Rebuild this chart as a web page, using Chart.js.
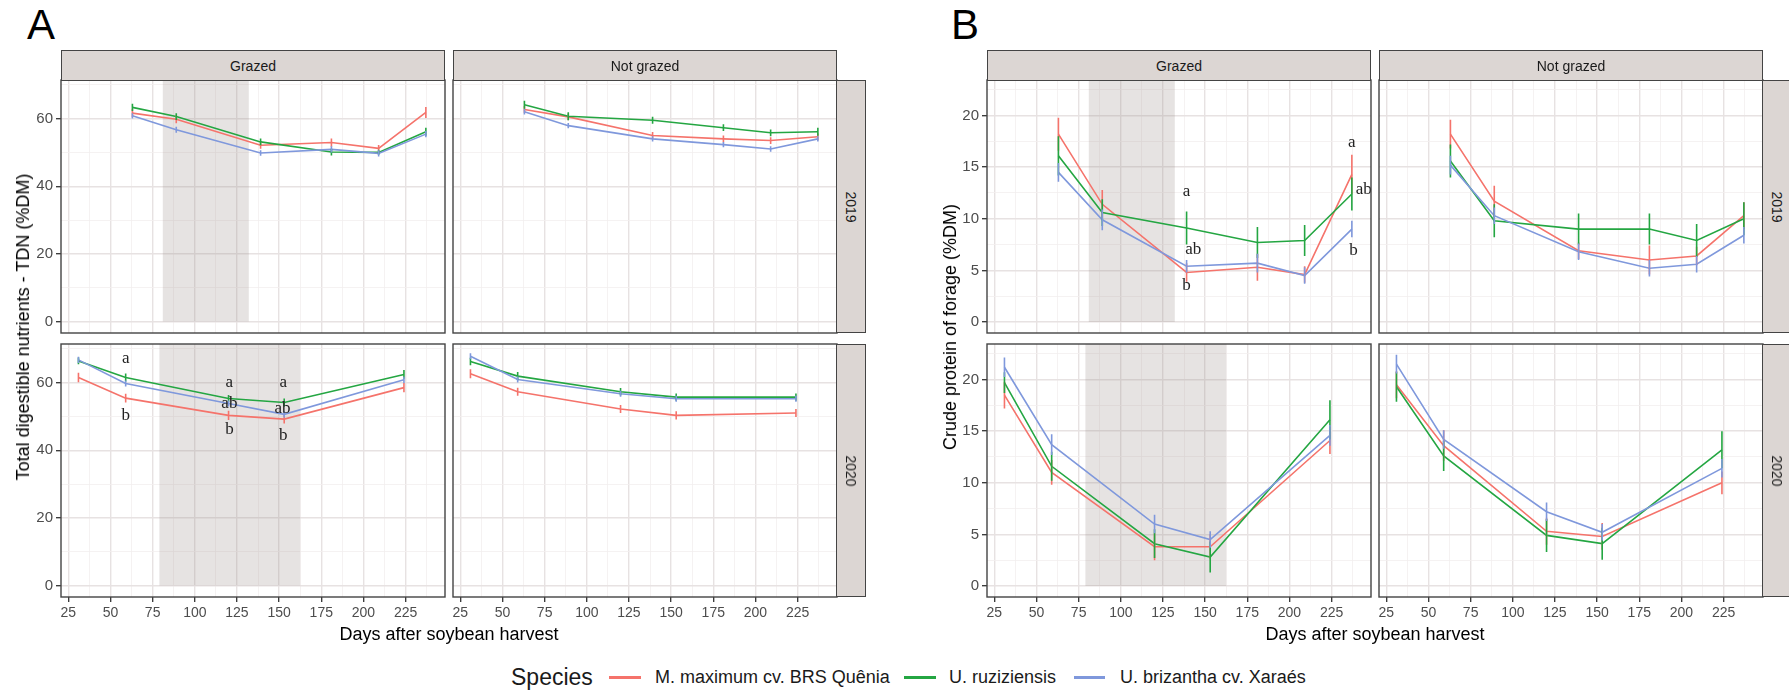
<!DOCTYPE html>
<html>
<head>
<meta charset="utf-8">
<script src="https://cdn.jsdelivr.net/npm/chart.js@4.4.0/dist/chart.umd.min.js"></script>
<style>
  body { margin: 0; width: 1789px; height: 692px; position: relative; overflow: hidden; background: #fff;
         font-family: "Liberation Sans", Arial, sans-serif; }
  canvas { position: absolute; }
  .lbl { position: absolute; white-space: nowrap; line-height: 1; transform: translate(-50%, -50%); color: #000; }
  .strip { position: absolute; background: #dcd6d3; border: 1.4px solid #444; box-sizing: border-box; }
  .key { position: absolute; height: 3px; }
</style>
</head>
<body>
<script>
// sampling days
const days2019 = [63, 89, 139, 181, 209, 237];
const days2020 = [31, 59, 120, 153, 224];
const species = ['M. maximum cv. BRS Quênia', 'U. ruziziensis', 'U. brizantha cv. Xaraés'];
const colors = ['#F5736B', '#24A642', '#7F98DC'];

// grazing period (shaded)
const grazing2019 = [81, 132];
const grazing2020 = [79, 162.5];

// tick labels
const xTicks = [25, 50, 75, 100, 125, 150, 175, 200, 225];
const tdnTicks = [0, 20, 40, 60];
const cpTicks = [0, 5, 10, 15, 20];

// A: TDN (%DM)
const tdnGrazed2019 = [
  [61.6, 59.8, 52.1, 52.9, 51.2, 61.8],
  [63.3, 60.6, 53.1, 50.1, 50.0, 56.1],
  [60.8, 56.7, 49.8, 50.9, 49.7, 55.4]
];
const tdnGrazed2019Err = [
  [1.2, 1.2, 1.0, 1.2, 1.0, 1.6],
  [1.1, 1.0, 1.0, 1.0, 0.8, 1.2],
  [0.8, 0.9, 0.8, 0.9, 0.9, 0.9]
];
const tdnNotGrazed2019 = [
  [62.7, 60.5, 55.0, 54.0, 53.5, 54.6],
  [64.1, 60.7, 59.5, 57.3, 55.8, 56.1],
  [62.0, 57.9, 54.0, 52.3, 51.0, 54.0]
];
const tdnNotGrazed2019Err = [
  [1.0, 1.0, 1.0, 1.0, 1.0, 1.0],
  [1.2, 1.2, 1.0, 1.0, 1.0, 1.2],
  [0.8, 0.8, 0.8, 0.8, 0.8, 0.8]
];
const tdnGrazed2020 = [
  [61.5, 55.4, 50.3, 49.2, 58.5],
  [66.4, 61.5, 55.3, 54.1, 62.4],
  [66.7, 59.7, 53.8, 50.6, 60.8]
];
const tdnGrazed2020Err = [
  [1.4, 1.3, 1.4, 1.3, 1.4],
  [1.0, 1.2, 1.0, 1.2, 1.3],
  [0.9, 0.9, 0.9, 0.9, 0.9]
];
const tdnNotGrazed2020 = [
  [62.6, 57.3, 52.2, 50.3, 51.0],
  [66.2, 61.9, 57.3, 55.7, 55.7],
  [67.8, 60.9, 56.7, 55.2, 55.2]
];
const tdnNotGrazed2020Err = [
  [1.3, 1.2, 1.2, 1.2, 1.2],
  [1.1, 1.2, 1.1, 1.1, 1.1],
  [0.9, 0.9, 0.9, 0.9, 0.9]
];

// B: crude protein (%DM)
const cpGrazed2019 = [
  [18.2, 11.4, 4.8, 5.3, 4.6, 14.3],
  [16.1, 10.6, 9.1, 7.7, 7.9, 12.4],
  [14.5, 9.9, 5.4, 5.7, 4.5, 9.0]
];
const cpGrazed2019Err = [
  [1.6, 1.4, 0.9, 1.3, 0.8, 1.9],
  [1.9, 1.3, 1.6, 1.5, 1.5, 1.6],
  [0.9, 1.0, 0.6, 0.9, 0.8, 0.8]
];
const cpNotGrazed2019 = [
  [18.2, 11.7, 6.9, 6.0, 6.4, 10.3],
  [15.6, 9.8, 9.0, 9.0, 7.9, 10.0],
  [15.2, 10.3, 6.8, 5.2, 5.6, 8.4]
];
const cpNotGrazed2019Err = [
  [1.4, 1.5, 0.8, 1.4, 0.9, 1.3],
  [1.6, 1.6, 1.5, 1.5, 1.6, 1.6],
  [0.9, 0.8, 0.8, 0.8, 0.8, 0.8]
];
const cpGrazed2020 = [
  [18.5, 11.0, 3.8, 3.8, 14.1],
  [19.7, 11.6, 4.1, 2.8, 16.1],
  [21.2, 13.7, 6.0, 4.5, 14.6]
];
const cpGrazed2020Err = [
  [1.3, 1.2, 1.3, 1.2, 1.3],
  [1.0, 1.4, 1.4, 1.5, 1.9],
  [0.95, 1.0, 0.9, 0.8, 1.0]
];
const cpNotGrazed2020 = [
  [19.5, 13.6, 5.3, 4.8, 10.0],
  [19.3, 12.6, 4.9, 4.1, 13.2],
  [21.5, 14.2, 7.2, 5.2, 11.4]
];
const cpNotGrazed2020Err = [
  [1.3, 1.5, 1.3, 1.3, 1.1],
  [1.45, 1.45, 1.6, 1.55, 1.8],
  [0.9, 0.9, 0.9, 0.8, 0.9]
];

// significance letters (day, value, text)
const tdnGrazed2020Letters = [
  [59, 67, 'a'], [59, 50.3, 'b'],
  [120.5, 60, 'a'], [120.5, 53.9, 'ab'], [120.5, 46.2, 'b'],
  [152.5, 60, 'a'], [152, 52.4, 'ab'], [152.5, 44.4, 'b']
];
const cpGrazed2019Letters = [
  [139, 12.6, 'a'], [143, 7.0, 'ab'], [139, 3.5, 'b'],
  [237, 17.4, 'a'], [244, 12.8, 'ab'], [238, 6.9, 'b']
];

const FONT = '"Liberation Sans", Arial, sans-serif';
const xMinorTicks = [];
for (let v = 25; v <= 237.5; v += 12.5) xMinorTicks.push(v);

function facetPlugin(f) {
  return {
    id: 'facet',
    beforeDatasetsDraw(chart) {
      if (!f.shade) return;
      const { ctx, chartArea: a, scales: { x, y } } = chart;
      const x1 = x.getPixelForValue(f.shade[0]), x2 = x.getPixelForValue(f.shade[1]);
      ctx.save();
      ctx.fillStyle = 'rgba(150,138,132,0.24)';
      ctx.fillRect(x1, a.top, x2 - x1, y.getPixelForValue(0) - a.top);
      ctx.restore();
    },
    afterDatasetsDraw(chart) {
      const { ctx, chartArea: a, scales: { x, y } } = chart;
      ctx.save();
      ctx.lineWidth = 1.6;
      f.values.forEach((vals, s) => {
        ctx.strokeStyle = colors[s];
        ctx.beginPath();
        vals.forEach((v, i) => {
          const px = x.getPixelForValue(f.days[i]);
          ctx.moveTo(px, y.getPixelForValue(v - f.errs[s][i]));
          ctx.lineTo(px, y.getPixelForValue(v + f.errs[s][i]));
        });
        ctx.stroke();
      });
      if (f.letters) {
        ctx.fillStyle = '#222';
        ctx.font = '17px "Liberation Serif", "Times New Roman", serif';
        ctx.textAlign = 'center';
        ctx.textBaseline = 'middle';
        f.letters.forEach(([d, v, t]) => ctx.fillText(t, x.getPixelForValue(d), y.getPixelForValue(v)));
      }
      ctx.strokeStyle = '#444';
      ctx.lineWidth = 1.4;
      ctx.strokeRect(a.left, a.top, a.right - a.left, a.bottom - a.top);
      ctx.restore();
    }
  };
}

function facet(L, T, R, B, f) {
  const M = 14, yW = f.showY ? 50 : 0, xH = f.showX ? 28 : 0;
  const w = R - L + 2 * M + yW, h = B - T + 2 * M + xH;
  const cv = document.createElement('canvas');
  cv.width = w; cv.height = h;
  cv.style.left = (L - M - yW) + 'px';
  cv.style.top = (T - M) + 'px';
  cv.style.width = w + 'px';
  cv.style.height = h + 'px';
  document.body.appendChild(cv);

  const yAll = [];
  for (let v = 0; v <= f.yMax; v += f.yStep / 2) yAll.push(v);
  const gridColor = (set) => (c) => (c.tick && set.includes(c.tick.value) ? '#e7e2e2' : '#f2efef');
  const gridWidth = (set) => (c) => (c.tick && set.includes(c.tick.value) ? 1.4 : 0.8);
  const tickColor = (set) => (c) => (c.tick && set.includes(c.tick.value) ? '#333' : 'rgba(0,0,0,0)');

  new Chart(cv, {
    type: 'line',
    data: {
      datasets: f.values.map((vals, s) => ({
        label: species[s],
        data: vals.map((v, i) => ({ x: f.days[i], y: v })),
        borderColor: colors[s],
        borderWidth: 1.6,
        pointRadius: 0,
        tension: 0,
        fill: false,
        order: 2 - s
      }))
    },
    options: {
      responsive: false,
      animation: false,
      devicePixelRatio: 1,
      layout: { padding: { left: M, right: M, top: M, bottom: M } },
      plugins: { legend: { display: false }, tooltip: { enabled: false } },
      scales: {
        x: {
          type: 'linear', min: 20.65, max: 248.35,
          afterBuildTicks: (s) => { s.ticks = xMinorTicks.map((v) => ({ value: v })); },
          afterFit: (s) => { s.height = xH; },
          ticks: {
            display: f.showX, autoSkip: false, maxRotation: 0, padding: 3,
            color: '#4d4d4d', font: { family: FONT, size: 14 },
            callback: (v) => (xTicks.includes(v) ? String(v) : '')
          },
          grid: {
            color: gridColor(xTicks), lineWidth: gridWidth(xTicks),
            drawTicks: f.showX, tickLength: 5, tickColor: tickColor(xTicks), tickWidth: 1.3
          },
          border: { display: false }
        },
        y: {
          type: 'linear', min: f.yMin, max: f.yTop,
          afterBuildTicks: (s) => { s.ticks = yAll.map((v) => ({ value: v })); },
          afterFit: (s) => { s.width = yW; },
          ticks: {
            display: f.showY, autoSkip: false, padding: 3,
            color: '#4d4d4d', font: { family: FONT, size: 15 },
            callback: (v) => (f.yTicks.includes(v) ? String(v) : '')
          },
          grid: {
            color: gridColor(f.yTicks), lineWidth: gridWidth(f.yTicks),
            drawTicks: f.showY, tickLength: 5, tickColor: tickColor(f.yTicks), tickWidth: 1.3
          },
          border: { display: false }
        }
      }
    },
    plugins: [facetPlugin(f)]
  });
}

function label(str, x, y, css) {
  const d = document.createElement('div');
  d.className = 'lbl';
  d.textContent = str;
  d.style.left = x + 'px';
  d.style.top = y + 'px';
  Object.assign(d.style, css || {});
  document.body.appendChild(d);
  return d;
}
function box(cls, l, t, w, h) {
  const d = document.createElement('div');
  d.className = cls;
  Object.assign(d.style, { left: l + 'px', top: t + 'px', width: w + 'px', height: h + 'px' });
  document.body.appendChild(d);
  return d;
}

// one facet grid (2 columns x 2 years)
function panel(letter, x0, letterX, yTitle, yMin, yTop, yMax, yStep, yTicks, sets) {
  const cols = [[x0, x0 + 384], [x0 + 392, x0 + 776]];
  const rows = [[80, 333], [344, 597]];
  const names = ['Grazed', 'Not grazed'];
  const years = ['2019', '2020'];
  sets.forEach((rowSets, r) => rowSets.forEach((s, c) => {
    facet(cols[c][0], rows[r][0], cols[c][1], rows[r][1], {
      days: r === 0 ? days2019 : days2020,
      values: s.values, errs: s.errs, letters: s.letters,
      shade: c === 0 ? (r === 0 ? grazing2019 : grazing2020) : null,
      showX: r === 1, showY: c === 0,
      yMin, yTop, yMax, yStep, yTicks
    });
  }));
  names.forEach((n, c) => {
    box('strip', cols[c][0], 50, 384, 31);
    label(n, cols[c][0] + 192, 65.5, { fontSize: '14px', color: '#1a1a1a' });
  });
  years.forEach((yr, r) => {
    box('strip', x0 + 775, rows[r][0], 30, rows[r][1] - rows[r][0]);
    label(yr, x0 + 790, (rows[r][0] + rows[r][1]) / 2, { fontSize: '14px', color: '#1a1a1a', transform: 'translate(-50%,-50%) rotate(90deg)' });
  });
  label(letter, letterX, 25, { fontSize: '42px', transform: 'translate(0,-50%)' });
  label(yTitle, x0 - (letter === 'A' ? 38 : 37), 327, { fontSize: '18px', transform: 'translate(-50%,-50%) rotate(-90deg)' });
  label('Days after soybean harvest', x0 + 388, 634, { fontSize: '18px' });
}

panel('A', 61, 27, 'Total digestible nutrients - TDN (%DM)', -3.4, 71.4, 70, 20, tdnTicks, [
  [{ values: tdnGrazed2019, errs: tdnGrazed2019Err }, { values: tdnNotGrazed2019, errs: tdnNotGrazed2019Err }],
  [{ values: tdnGrazed2020, errs: tdnGrazed2020Err, letters: tdnGrazed2020Letters }, { values: tdnNotGrazed2020, errs: tdnNotGrazed2020Err }]
]);
panel('B', 987, 951, 'Crude protein of forage (%DM)', -1.07, 23.45, 22.5, 5, cpTicks, [
  [{ values: cpGrazed2019, errs: cpGrazed2019Err, letters: cpGrazed2019Letters }, { values: cpNotGrazed2019, errs: cpNotGrazed2019Err }],
  [{ values: cpGrazed2020, errs: cpGrazed2020Err }, { values: cpNotGrazed2020, errs: cpNotGrazed2020Err }]
]);

// legend
label('Species', 511, 677, { fontSize: '23px', transform: 'translate(0,-50%)', color: '#1a1a1a' });
const keyX = [[609, 641], [904, 936], [1074, 1105]];
const labelX = [655, 949, 1120];
species.forEach((s, i) => {
  const k = box('key', keyX[i][0], 676, keyX[i][1] - keyX[i][0], 3);
  k.style.background = colors[i];
  label(s, labelX[i], 677, { fontSize: '18px', transform: 'translate(0,-50%)', color: '#1a1a1a' });
});
</script>
</body>
</html>
